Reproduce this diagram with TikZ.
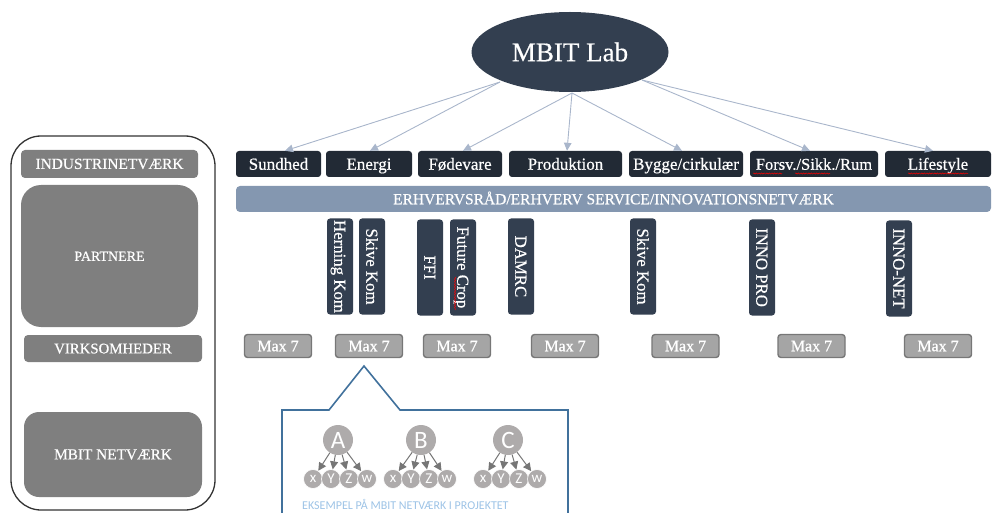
\documentclass[tikz,border=0pt]{standalone}
\usepackage{fontspec}
\setmainfont{Liberation Serif}[UprightFeatures={FakeBold=0.5}]
\newfontfamily\calib{Carlito}
\usetikzlibrary{arrows.meta,shapes.geometric,decorations.pathmorphing,calc}
\definecolor{ellc}{HTML}{333F50}
\definecolor{catc}{HTML}{222A35}
\definecolor{barc}{HTML}{8497B0}
\definecolor{linec}{HTML}{A9B6CB}
\definecolor{panelc}{HTML}{7F7F7F}
\definecolor{maxf}{HTML}{A5A5A5}
\definecolor{maxd}{HTML}{777777}
\definecolor{treec}{HTML}{AEABAB}
\definecolor{treea}{HTML}{767676}
\definecolor{callc}{HTML}{41719C}
\definecolor{captc}{HTML}{9DC3E6}
\tikzset{
  catbox/.style={fill=catc, rounded corners=3pt, minimum height=26pt, inner sep=0pt, text height=11.5pt, text depth=0pt, text=white, font=\fontsize{17}{17}\selectfont},
  partbox/.style={fill=ellc, rounded corners=3pt, minimum width=96pt, minimum height=26pt, inner sep=0pt, text height=11.5pt, text depth=0pt, text=white, rotate=-90, font=\fontsize{16.8}{17}\selectfont},
  maxbox/.style={fill=maxf, draw=maxd, line width=1.4pt, rounded corners=3pt, minimum width=67pt, minimum height=23pt, inner sep=0pt, text height=10.5pt, text depth=0pt, text=white, font=\fontsize{16}{16}\selectfont},
  panelbox/.style={fill=panelc, inner sep=0pt, text height=9.8pt, text depth=0pt, text=white},
  toarrow/.style={draw=linec, line width=0.9pt, -{Triangle[length=8pt,width=7.5pt]}},
  bigc/.style={circle, fill=treec, minimum size=30pt, inner sep=0pt, text=white, font=\calib\fontsize{25}{25}\selectfont},
  smallc/.style={circle, fill=treec, draw=white, line width=0.6pt, minimum size=19pt, inner sep=0pt, text=white, font=\calib\fontsize{15}{15}\selectfont},
  treearrow/.style={draw=treea, line width=1pt, -{Triangle[length=8pt,width=8pt]}},
  spell/.style={draw=red, line width=0.5pt, decorate, decoration={snake, amplitude=0.6pt, segment length=2.6pt}}
}
\begin{document}
\begin{tikzpicture}[x=1pt,y=-1pt]
\useasboundingbox (0,0) rectangle (993,513);
\clip (0,0) rectangle (993,513);

% top ellipse
\node[ellipse, fill=ellc, minimum width=197pt, minimum height=80pt, inner sep=0pt, text=white, font=\fontsize{27}{27}\selectfont] (lab) at (570,52) {MBIT Lab};
\coordinate (eL) at (500,82);
\coordinate (eC) at (572,93);
\coordinate (eR) at (642,80);

% categories
\node[catbox, minimum width=85pt] (sund) at (278.5,164) {Sundhed};
\node[catbox, minimum width=86pt] (ener) at (369,164) {Energi};
\node[catbox, minimum width=84pt] (fode) at (460,164) {Fødevare};
\node[catbox, minimum width=113pt] (prod) at (565.5,164) {Produktion};
\node[catbox, minimum width=114pt] (bygg) at (686,164) {Bygge/cirkulær};
\node[catbox, minimum width=128pt, font=\fontsize{16.5}{17}\selectfont] (fors) at (814,164) {Forsv./Sikk./Rum};
\node[catbox, minimum width=106pt] (life) at (938,164) {Lifestyle};

\draw[toarrow] (eL) -- ([xshift=6.5pt]sund.north);
\draw[toarrow] (eL) -- ([xshift=1pt]ener.north);
\draw[toarrow] (eC) -- ([xshift=3pt]fode.north);
\draw[toarrow] (eC) -- ([xshift=1.5pt]prod.north);
\draw[toarrow] (eC) -- ([xshift=-4pt]bygg.north);
\draw[toarrow] (eR) -- ([xshift=-4pt]fors.north);
\draw[toarrow] (eR) -- ([xshift=-5pt]life.north);

% bar
\node[fill=barc, rounded corners=4pt, minimum width=755pt, minimum height=26pt, inner sep=0pt, text height=10.5pt, text depth=0pt, text=white, font=\fontsize{15.5}{16}\selectfont] (bar) at (613.5,199) {ERHVERVSRÅD/ERHVERV SERVICE/INNOVATIONSNETVÆRK};

% partners
\node[partbox] (herning) at (340,266.5) {Herning Kom};
\node[partbox] (skive1) at (372,266.5) {Skive Kom};
\node[partbox] (ffi) at (430,267.5) {FFI};
\node[partbox] (future) at (463,267.5) {Future Crop};
\node[partbox] (damrc) at (521,266.5) {DAMRC};
\node[partbox] (skive2) at (643,266.5) {Skive Kom};
\node[partbox] (innopro) at (762,267.5) {INNO PRO};
\node[partbox] (innonet) at (899,268.5) {INNO-NET};

% max boxes
\node[maxbox] (m1) at (278,346) {Max 7};
\node[maxbox] (m2) at (369,346) {Max 7};
\node[maxbox] (m3) at (457,346) {Max 7};
\node[maxbox] (m4) at (565,346) {Max 7};
\node[maxbox] (m5) at (685.5,346) {Max 7};
\node[maxbox] (m6) at (811.5,346) {Max 7};
\node[maxbox] (m7) at (938,346) {Max 7};

% spell-check underlines
\draw[spell] (753,173.5) -- (782,173.5);
\draw[spell] (795,173.5) -- (830,173.5);
\draw[spell] (908,173.5) -- (968,173.5);
\draw[spell] (455,277) -- (455,310);

% left panel
\draw[line width=1.3pt, draw=black!80, rounded corners=30pt] (11,136) rectangle (215,510);
\node[panelbox, rounded corners=4pt, minimum width=177pt, minimum height=28pt, font=\fontsize{15.4}{16}\selectfont] (ind) at (109.5,164) {INDUSTRINETVÆRK};
\node[panelbox, rounded corners=20pt, minimum width=177pt, minimum height=142pt, font=\fontsize{14}{15}\selectfont] (par) at (109.5,256) {PARTNERE};
\node[panelbox, rounded corners=4pt, minimum width=178pt, minimum height=27pt, font=\fontsize{14.8}{15}\selectfont] (vir) at (113,348.5) {VIRKSOMHEDER};
\node[panelbox, rounded corners=15pt, minimum width=178pt, minimum height=85pt, font=\fontsize{15.3}{16}\selectfont] (mbn) at (113,454.5) {MBIT NETVÆRK};

% callout
\draw[callc, line width=1.6pt, line join=miter] (282,520) -- (282,410) -- (329,410) -- (364,366) -- (400,410) -- (568,410) -- (568,520);

% trees
\foreach \L/\cx/\a/\b/\c/\d in {A/338/313/331/349/367, B/421/393/411/429/447, C/508/483/501/519/537}{
  \node[bigc] (t\L) at (\cx,440) {\L};
  \node[smallc] (t\L x) at (\a,479) {x};
  \node[smallc] (t\L y) at (\b,479) {Y};
  \node[smallc] (t\L z) at (\c,479) {Z};
  \node[smallc] (t\L w) at (\d,479) {w};
  \draw[treearrow] (t\L) -- (t\L x);
  \draw[treearrow] (t\L) -- (t\L y);
  \draw[treearrow] (t\L) -- (t\L z);
  \draw[treearrow] (t\L) -- (t\L w);
}
\node[anchor=west, inner sep=0pt, text=captc, font=\calib\fontsize{12}{12}\selectfont] (capt) at (302,504) {EKSEMPEL PÅ MBIT NETVÆRK I PROJEKTET};
\end{tikzpicture}
\end{document}
